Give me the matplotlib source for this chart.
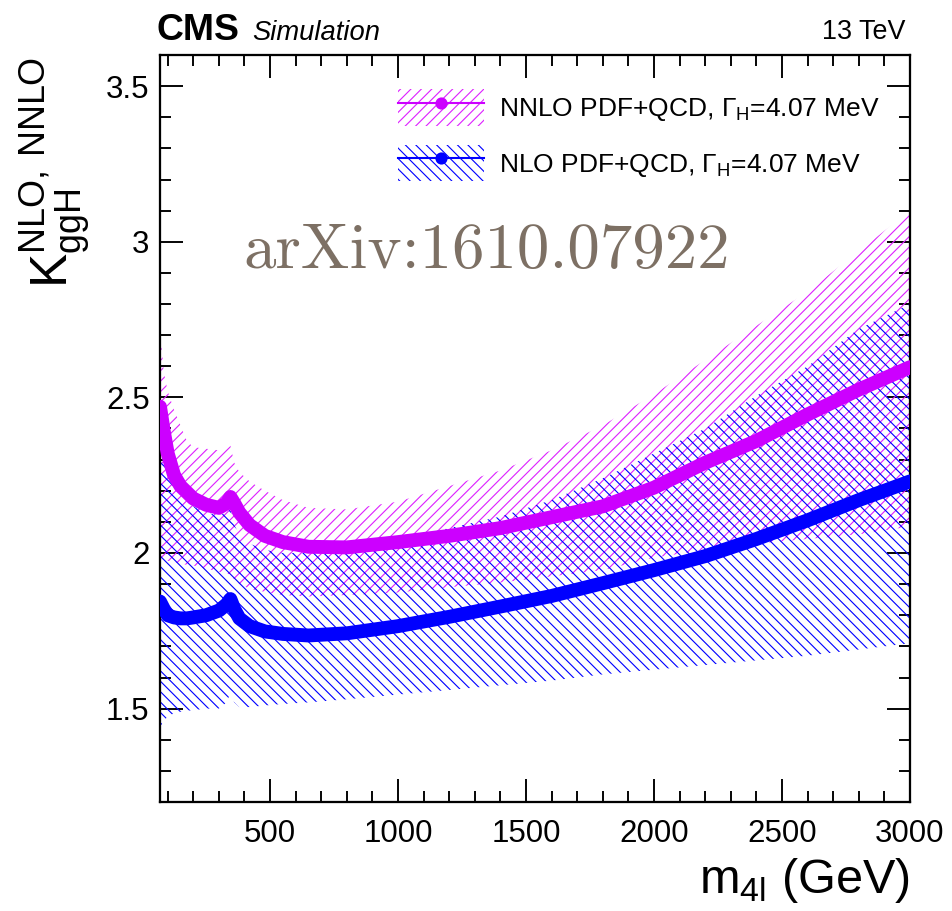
import matplotlib
matplotlib.use("Agg")
import matplotlib.pyplot as plt
from matplotlib.patches import Patch
from matplotlib.lines import Line2D
from matplotlib.ticker import MultipleLocator, FormatStrFormatter

# m4l grid (GeV)
mass = [70, 85, 100, 125, 150, 175, 200, 250, 300, 330, 345, 360, 380, 420,
        480, 550, 650, 800, 1000, 1200, 1400, 1600, 1800, 2000, 2200, 2400,
        2600, 2800, 3000]

# NNLO K-factor and its PDF+QCD band
k_nnlo = [2.47, 2.39, 2.32, 2.25, 2.215, 2.195, 2.175, 2.155, 2.145, 2.16,
          2.18, 2.16, 2.13, 2.09, 2.055, 2.035, 2.02, 2.018, 2.035, 2.055,
          2.08, 2.115, 2.15, 2.21, 2.29, 2.36, 2.445, 2.525, 2.597]
k_nnlo_up = [2.72, 2.58, 2.52, 2.46, 2.41, 2.36, 2.34, 2.335, 2.33, 2.335,
             2.345, 2.29, 2.26, 2.23, 2.20, 2.17, 2.145, 2.14, 2.165, 2.215,
             2.265, 2.33, 2.41, 2.51, 2.62, 2.73, 2.84, 2.97, 3.10]
k_nnlo_dn = [1.98, 1.978, 1.975, 1.97, 1.965, 1.962, 1.96, 1.95, 1.94, 1.935,
             1.93, 1.915, 1.90, 1.885, 1.875, 1.865, 1.86, 1.865, 1.873, 1.89,
             1.905, 1.925, 1.945, 1.985, 2.01, 2.03, 2.045, 2.06, 2.085]

# NLO K-factor and its PDF+QCD band
k_nlo = [1.844, 1.82, 1.80, 1.793, 1.79, 1.79, 1.793, 1.80, 1.815, 1.835,
         1.852, 1.82, 1.79, 1.765, 1.748, 1.74, 1.735, 1.742, 1.765, 1.795,
         1.828, 1.862, 1.903, 1.945, 1.99, 2.045, 2.105, 2.17, 2.23]
k_nlo_up = [2.37, 2.30, 2.26, 2.22, 2.19, 2.17, 2.15, 2.13, 2.12, 2.13,
            2.14, 2.09, 2.06, 2.03, 2.01, 2.0, 2.0, 2.015, 2.043, 2.08,
            2.117, 2.17, 2.24, 2.32, 2.40, 2.505, 2.60, 2.72, 2.80]
k_nlo_dn = [1.44, 1.46, 1.475, 1.485, 1.49, 1.493, 1.495, 1.50, 1.50, 1.52,
            1.55, 1.52, 1.505, 1.505, 1.51, 1.515, 1.52, 1.53, 1.545, 1.56,
            1.575, 1.59, 1.61, 1.625, 1.64, 1.655, 1.67, 1.69, 1.71]

lbl_nnlo = r"NNLO PDF+QCD, $\mathregular{\Gamma_{H}}$=4.07 MeV"
lbl_nlo = r"NLO PDF+QCD, $\mathregular{\Gamma_{H}}$=4.07 MeV"

MAG = "#cc00ff"
MAG_H = "#dd22ff"
BLU = "#0000ff"
HATCH_MAG = "////"
HATCH_BLU = "\\\\\\\\"

plt.rcParams.update({
    "font.family": ["Liberation Sans", "DejaVu Sans"],
    "hatch.linewidth": 0.65,
    "axes.linewidth": 1.3,
})

DPI = 125
fig = plt.figure(figsize=(952 / DPI, 911 / DPI), dpi=DPI)
ax = fig.add_axes([160 / 952, 109 / 911, 750 / 952, 747 / 911])

# bands
ax.fill_between(mass, k_nnlo_dn, k_nnlo_up, facecolor="none",
                edgecolor=MAG_H, hatch=HATCH_MAG, linewidth=0, zorder=2)
ax.fill_between(mass, k_nlo_dn, k_nlo_up, facecolor="none",
                edgecolor=BLU, hatch=HATCH_BLU, linewidth=0, zorder=2)

# central curves
ax.plot(mass, k_nnlo, color=MAG, lw=8, solid_capstyle="round",
        solid_joinstyle="round", zorder=4)
ax.plot(mass, k_nlo, color=BLU, lw=8, solid_capstyle="round",
        solid_joinstyle="round", zorder=4)

ax.set_xlim(70, 3000)
ax.set_ylim(1.2, 3.6)
ax.xaxis.set_major_locator(MultipleLocator(500))
ax.xaxis.set_minor_locator(MultipleLocator(100))
ax.yaxis.set_major_locator(MultipleLocator(0.5))
ax.yaxis.set_minor_locator(MultipleLocator(0.1))
ax.yaxis.set_major_formatter(FormatStrFormatter("%g"))
ax.tick_params(which="both", direction="in", top=True, right=True, width=1.1)
ax.tick_params(which="major", length=13)
ax.tick_params(which="minor", length=6.5)
ax.tick_params(axis="x", labelsize=18, pad=10)
ax.tick_params(axis="y", labelsize=18, pad=6)

# legend: hatched box with line + marker
h_nnlo = (Patch(facecolor="none", edgecolor=MAG_H, hatch=HATCH_MAG, linewidth=0),
          Line2D([], [], color=MAG, lw=1.2, marker="o", markersize=6))
h_nlo = (Patch(facecolor="none", edgecolor=BLU, hatch=HATCH_BLU, linewidth=0),
         Line2D([], [], color=BLU, lw=1.2, marker="o", markersize=6))
ax.legend([h_nnlo, h_nlo], [lbl_nnlo, lbl_nlo], loc="upper left",
          bbox_to_anchor=(0.317, 0.954), frameon=False, fontsize=15.2,
          handlelength=3.27, handleheight=1.75, labelspacing=0.72,
          handletextpad=0.55, borderpad=0, borderaxespad=0)

# watermark
fig.text(243 / 952, (911 - 268) / 911, "arXiv:1610.07922", family="cmr10",
         fontsize=37.4, color="#7d7064", ha="left", va="baseline")

# CMS header
fig.text(157 / 952, (911 - 40) / 911, "CMS", fontsize=21.5,
         fontweight="bold", ha="left", va="baseline")
fig.text(252 / 952, (911 - 40) / 911, "Simulation", fontsize=15.8,
         fontstyle="italic", ha="left", va="baseline")
fig.text(905 / 952, (911 - 39) / 911, "13 TeV", fontsize=15.5,
         ha="right", va="baseline")

# axis titles
fig.text(910 / 952, (911 - 893) / 911, r"m$_{\mathregular{4l}}$ (GeV)",
         fontsize=28, ha="right", va="baseline")
fig.text(55 / 952, (911 - 57) / 911,
         r"$\mathregular{K^{NLO,\,NNLO}_{ggH}}$", fontsize=29.5,
         rotation=90, ha="center", va="top")

fig.savefig("out.png", dpi=DPI)
